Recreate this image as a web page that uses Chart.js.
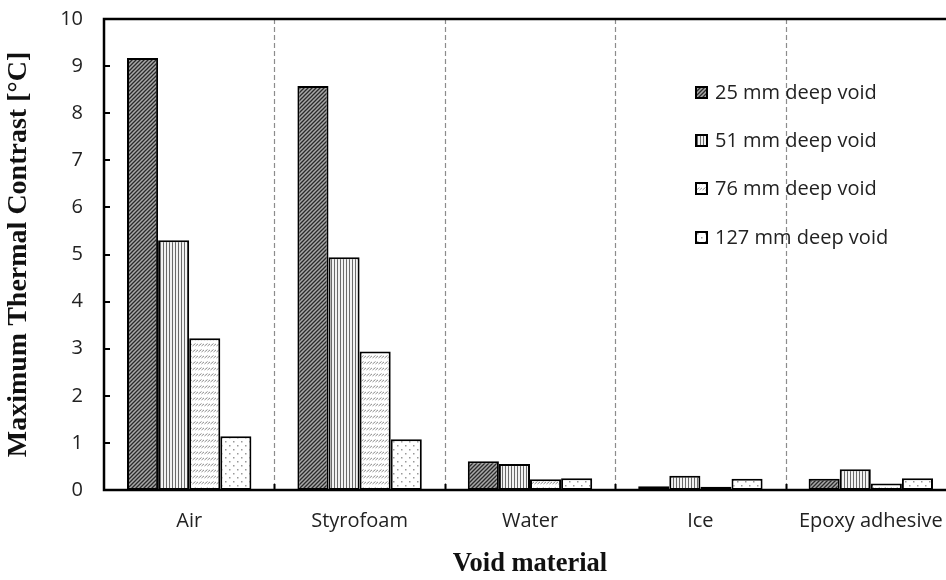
<!DOCTYPE html>
<html>
<head>
<meta charset="utf-8">
<script src="https://cdn.jsdelivr.net/npm/chart.js@4/dist/chart.umd.min.js"></script>
<style>
  html, body { margin: 0; padding: 0; background: #fff; overflow: hidden; }
  #wrap { width: 946px; height: 580px; overflow: hidden; }
</style>
</head>
<body>
<div id="wrap"><canvas id="chart" width="975" height="580"></canvas></div>
<script>
// 数据
const materials = ['Air', 'Styrofoam', 'Water', 'Ice', 'Epoxy adhesive'];
const depthLabels = ['25 mm deep void', '51 mm deep void', '76 mm deep void', '127 mm deep void'];
const depth25 = [9.17, 8.58, 0.61, 0.08, 0.24];
const depth51 = [5.30, 4.94, 0.55, 0.30, 0.44];
const depth76 = [3.22, 2.94, 0.23, 0.07, 0.14];
const depth127 = [1.14, 1.08, 0.25, 0.24, 0.25];
const yTicks = [0, 1, 2, 3, 4, 5, 6, 7, 8, 9, 10];

const TICK_FONT = "'Open Sans', sans-serif";
const TITLE_FONT = "'Liberation Serif', 'Times New Roman', serif";

// 填充图案
function makePattern(kind) {
    const c = document.createElement('canvas');
    const g = c.getContext('2d');
    if (kind === 'diag') {
        c.width = 4; c.height = 4;
        g.fillStyle = '#a8a8a8';
        g.fillRect(0, 0, 4, 4);
        g.strokeStyle = '#2a2a2a';
        g.lineWidth = 1.3;
        g.beginPath();
        g.moveTo(-1, 5); g.lineTo(5, -1);
        g.moveTo(-1, 1); g.lineTo(1, -1);
        g.moveTo(3, 5); g.lineTo(5, 3);
        g.stroke();
    } else if (kind === 'vert') {
        c.width = 3; c.height = 3;
        g.fillStyle = '#f2f2f2';
        g.fillRect(0, 0, 3, 3);
        g.fillStyle = '#6a6a6a';
        g.fillRect(1, 0, 1, 3);
    } else if (kind === 'wave') {
        c.width = 6; c.height = 6;
        g.fillStyle = '#ffffff';
        g.fillRect(0, 0, 6, 6);
        g.strokeStyle = '#8a8a8a';
        g.lineWidth = 1;
        g.beginPath();
        g.moveTo(0.5, 4); g.lineTo(3.5, 1.5);
        g.moveTo(3.5, 4); g.lineTo(6.5, 1.5);
        g.stroke();
    } else {
        c.width = 8; c.height = 8;
        g.fillStyle = '#ffffff';
        g.fillRect(0, 0, 8, 8);
        g.fillStyle = '#999999';
        g.fillRect(1, 1, 1.5, 1.5);
        g.fillRect(5, 5, 1.5, 1.5);
    }
    return g.createPattern(c, 'repeat');
}

const fills = [makePattern('diag'), makePattern('vert'), makePattern('wave'), makePattern('dots')];
const seriesValues = [depth25, depth51, depth76, depth127];

// 坐标框、虚线分隔和图例
const framePlugin = {
    id: 'frame',
    afterDatasetsDraw(chart) {
        const ctx = chart.ctx;
        const a = chart.chartArea;
        const x = chart.scales.x;
        const y = chart.scales.y;
        ctx.save();
        // 类别之间的虚线
        const half = (x.getPixelForValue(1) - x.getPixelForValue(0)) / 2;
        ctx.strokeStyle = '#8c8c8c';
        ctx.lineWidth = 1.2;
        ctx.setLineDash([5, 3]);
        for (let i = 0; i < materials.length - 1; i++) {
            const px = Math.round(x.getPixelForValue(i) + half) + 0.5;
            ctx.beginPath();
            ctx.moveTo(px, a.top);
            ctx.lineTo(px, a.bottom);
            ctx.stroke();
        }
        ctx.setLineDash([]);
        // 底部小刻度
        ctx.strokeStyle = '#000';
        ctx.lineWidth = 2;
        for (let i = 0; i < materials.length - 1; i++) {
            const px = Math.round(x.getPixelForValue(i) + half) + 0.5;
            ctx.beginPath();
            ctx.moveTo(px, a.bottom);
            ctx.lineTo(px, a.bottom - 6);
            ctx.stroke();
        }
        // y 轴内刻度
        yTicks.forEach(v => {
            if (v === 0 || v === 10) return;
            const py = Math.round(y.getPixelForValue(v));
            ctx.beginPath();
            ctx.moveTo(a.left, py);
            ctx.lineTo(a.left + 6, py);
            ctx.stroke();
        });
        // 外框
        ctx.lineWidth = 2.5;
        ctx.strokeRect(a.left, a.top, a.right - a.left, a.bottom - a.top);
        // 图例
        const lx = 695, ly = [92, 140, 188, 237];
        ctx.font = '20px ' + TICK_FONT;
        ctx.textBaseline = 'middle';
        depthLabels.forEach((lab, i) => {
            ctx.fillStyle = fills[i];
            ctx.fillRect(lx, ly[i] - 6, 13, 13);
            ctx.lineWidth = 2;
            ctx.strokeStyle = '#000';
            ctx.strokeRect(lx + 1, ly[i] - 5, 11, 11);
            ctx.fillStyle = '#222';
            ctx.fillText(lab, lx + 20, ly[i] + 1);
        });
        ctx.restore();
    }
};

new Chart(document.getElementById('chart'), {
    type: 'bar',
    data: {
        labels: materials,
        datasets: seriesValues.map((vals, i) => ({
            label: depthLabels[i],
            data: vals,
            backgroundColor: fills[i],
            borderColor: '#000',
            borderWidth: 2,
            borderSkipped: false,
            categoryPercentage: 0.73,
            barPercentage: 1.0
        }))
    },
    options: {
        responsive: false,
        animation: false,
        devicePixelRatio: 1,
        layout: { padding: { top: 19, right: 19, left: 0, bottom: 0 } },
        plugins: {
            legend: { display: false },
            tooltip: { enabled: false }
        },
        scales: {
            x: {
                grid: { display: false, drawTicks: false },
                border: { display: false },
                ticks: {
                    padding: 19,
                    color: '#222',
                    font: { family: TICK_FONT, size: 20 }
                },
                title: {
                    display: true,
                    text: 'Void material',
                    color: '#111',
                    font: { family: TITLE_FONT, size: 26.5, weight: 'bold' },
                    padding: { top: 0, bottom: 0 }
                },
                afterFit(s) { s.height = 90; }
            },
            y: {
                min: 0,
                max: 10,
                grid: { display: false, drawTicks: false },
                border: { display: false },
                afterBuildTicks(s) { s.ticks = yTicks.map(v => ({ value: v })); },
                ticks: {
                    padding: 21,
                    color: '#222',
                    font: { family: TICK_FONT, size: 20 }
                },
                title: {
                    display: true,
                    text: 'Maximum Thermal Contrast [°C]',
                    color: '#111',
                    font: { family: TITLE_FONT, size: 28, weight: 'bold' },
                    padding: { top: 2, bottom: 0 }
                },
                afterFit(s) {
                    s.width = 104;
                    s.paddingTop = 0;
                    s.paddingBottom = 0;
                }
            }
        }
    },
    plugins: [framePlugin]
});
</script>
</body>
</html>
